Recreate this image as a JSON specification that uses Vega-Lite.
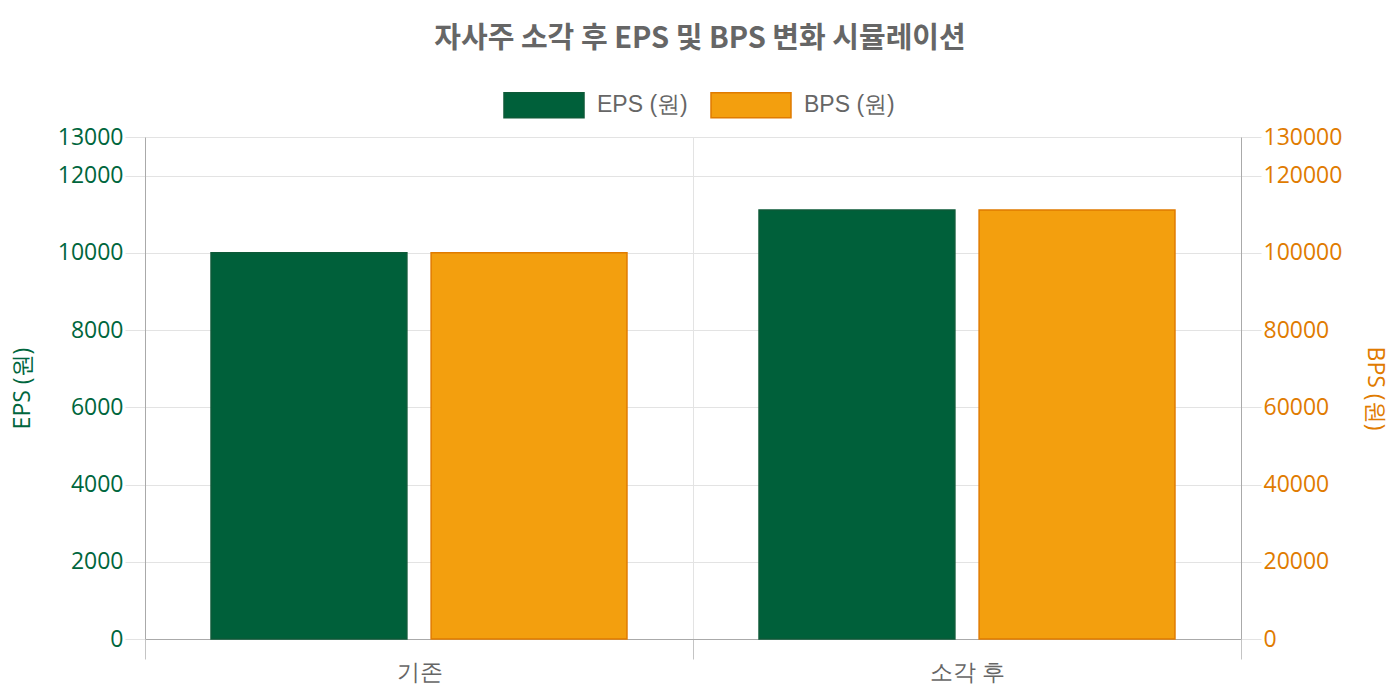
{
  "$schema": "https://vega.github.io/schema/vega-lite/v6.json",
  "autosize": "none",
  "padding": {"left": 145, "top": 137, "right": 159, "bottom": 61},
  "width": 1096,
  "height": 502,
  "title": {
    "text": "자사주 소각 후 EPS 및 BPS 변화 시뮬레이션",
    "font": "Noto Sans CJK KR",
    "fontSize": 29,
    "fontWeight": "bold",
    "color": "#666666",
    "anchor": "middle",
    "frame": "group",
    "dx": 7,
    "offset": 10
  },
  "data": {
    "values": [
      {"구분": "기존", "지표": "EPS (원)", "값": 10000},
      {"구분": "기존", "지표": "BPS (원)", "값": 100000},
      {"구분": "소각 후", "지표": "EPS (원)", "값": 11111},
      {"구분": "소각 후", "지표": "BPS (원)", "값": 111111}
    ]
  },
  "encoding": {
    "x": {
      "field": "구분",
      "type": "nominal",
      "sort": ["기존", "소각 후"],
      "scale": {"paddingInner": 0, "paddingOuter": 0},
      "axis": {
        "title": null,
        "labelAngle": 0,
        "tickBand": "extent",
        "grid": true,
        "gridColor": "#e3e3e3",
        "domainColor": "#aaaaaa",
        "tickColor": "#c4c4c4",
        "tickSize": 20,
        "labelPadding": 2,
        "labelFont": "Open Sans",
        "labelFontSize": 23,
        "labelColor": "#666666"
      }
    },
    "xOffset": {
      "field": "지표",
      "type": "nominal",
      "scale": {"domain": ["EPS (원)", "BPS (원)"], "paddingInner": 0.11, "paddingOuter": 0.3}
    },
    "color": {
      "field": "지표",
      "type": "nominal",
      "scale": {"domain": ["EPS (원)", "BPS (원)"], "range": ["#00603a", "#f39f0e"]},
      "legend": {"title": null}
    },
    "stroke": {
      "field": "지표",
      "type": "nominal",
      "scale": {"domain": ["EPS (원)", "BPS (원)"], "range": ["#0d5a38", "#e07b00"]},
      "legend": {"title": null}
    }
  },
  "layer": [
    {
      "transform": [{"filter": "datum['지표'] == 'EPS (원)'"}],
      "mark": {"type": "bar", "strokeWidth": 1.5},
      "encoding": {
        "y": {
          "field": "값",
          "type": "quantitative",
          "scale": {"domain": [0, 13000], "nice": false},
          "axis": {
            "orient": "left",
            "title": "EPS (원)",
            "values": [0, 2000, 4000, 6000, 8000, 10000, 12000, 13000],
            "format": "d",
            "grid": true,
            "gridColor": "#e3e3e3",
            "domainColor": "#aaaaaa",
            "tickColor": "#e3e3e3",
            "tickSize": 20,
            "labelPadding": 2,
            "labelFont": "Open Sans",
            "labelFontSize": 23,
            "labelColor": "#00663d",
            "titleFont": "Open Sans",
            "titleFontSize": 23,
            "titleFontWeight": "normal",
            "titleColor": "#00663d",
            "titlePadding": 23
          }
        }
      }
    },
    {
      "transform": [{"filter": "datum['지표'] == 'BPS (원)'"}],
      "mark": {"type": "bar", "strokeWidth": 1.5},
      "encoding": {
        "y": {
          "field": "값",
          "type": "quantitative",
          "scale": {"domain": [0, 130000], "nice": false},
          "axis": {
            "orient": "right",
            "title": "BPS (원)",
            "values": [0, 20000, 40000, 60000, 80000, 100000, 120000, 130000],
            "format": "d",
            "grid": false,
            "domainColor": "#aaaaaa",
            "tickColor": "#e3e3e3",
            "tickSize": 20,
            "labelPadding": 2,
            "labelFont": "Open Sans",
            "labelFontSize": 23,
            "labelColor": "#e07b00",
            "titleFont": "Open Sans",
            "titleFontSize": 23,
            "titleFontWeight": "normal",
            "titleColor": "#e07b00",
            "titlePadding": 21
          }
        }
      }
    }
  ],
  "resolve": {"scale": {"y": "independent"}, "axis": {"y": "independent"}},
  "config": {
    "view": {"stroke": null},
    "legend": {
      "orient": "none",
      "legendX": 358,
      "legendY": -73,
      "direction": "horizontal",
      "symbolType": "M-1,-0.3125L1,-0.3125L1,0.3125L-1,0.3125Z",
      "symbolSize": 6400,
      "symbolStrokeWidth": 1.5,
      "symbolOpacity": 1,
      "labelFont": "Liberation Sans",
      "labelFontSize": 23,
      "labelColor": "#666666",
      "labelOffset": 12,
      "columnPadding": 20
    }
  }
}
